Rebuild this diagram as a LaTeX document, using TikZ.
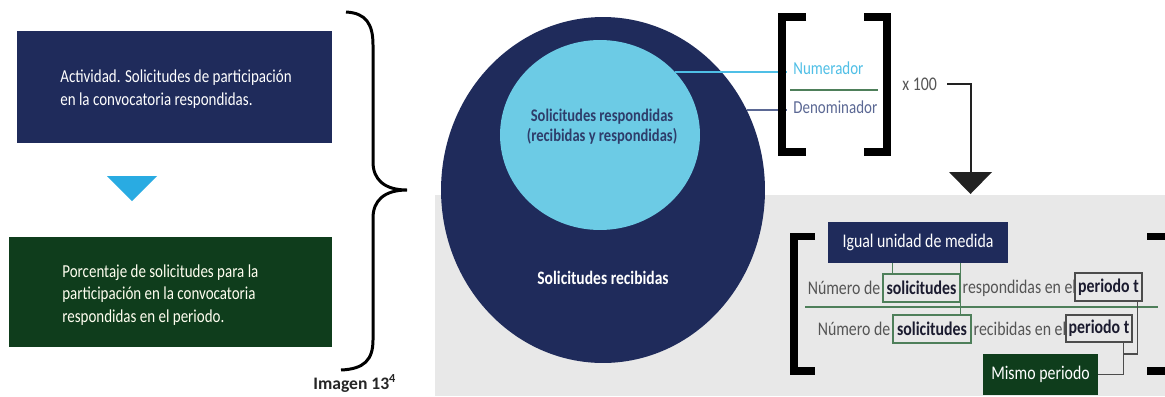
\documentclass[tikz,border=0pt]{standalone}
\usepackage{fontspec}
\setmainfont{Carlito}
\newfontfamily\cf[FakeStretch=0.82]{Carlito}
\usetikzlibrary{shapes.geometric,calc}
\definecolor{navy}{HTML}{1F2B5B}
\definecolor{dgreen}{HTML}{0F3D1C}
\definecolor{tricyan}{HTML}{29ABE2}
\definecolor{lcyan}{HTML}{6CCBE5}
\definecolor{bggray}{HTML}{E8E8E8}
\definecolor{numc}{HTML}{4FBFE6}
\definecolor{denc}{HTML}{5B6894}
\definecolor{circtxt}{HTML}{2E3D6B}
\definecolor{lgreen}{HTML}{4E7F5A}
\definecolor{gtxt}{HTML}{555555}
\definecolor{btxt}{HTML}{1B1B2F}
\definecolor{darkc}{HTML}{222222}
\definecolor{imgtxt}{HTML}{262626}
\begin{document}
\begin{tikzpicture}[x=0.02cm,y=-0.02cm,
  box/.style={inner sep=0, text=white, align=left, font=\cf\fontsize{10.4}{13}\selectfont},
  tagbox/.style={inner sep=0, text=white, minimum height=0.82cm, font=\cf\fontsize{11}{13}\selectfont},
  wbox/.style={inner sep=0, draw=#1, line width=0.7pt, text=btxt, minimum height=0.56cm, font=\cf\bfseries\fontsize{11}{13}\selectfont},
  ftxt/.style={inner sep=1pt, text=gtxt, font=\cf\fontsize{11}{13}\selectfont},
  ctxt/.style={inner sep=0, font=\cf\bfseries\fontsize{10.8}{11.5}\selectfont, align=center},
  lbl/.style={inner sep=0, font=\cf\fontsize{10.4}{12}\selectfont},
  brk/.style={line width=4.5pt, miter limit=10},
  conn/.style={line width=0.8pt, darkc}
]
\useasboundingbox (0,0) rectangle (1165,396);
\clip (0,0) rectangle (1165,396);
\fill[white] (0,0) rectangle (1165,396);
\fill[bggray] (435,195) rectangle (1165,396);

% left column
\node[box, fill=navy, minimum width=6.3cm, minimum height=2.24cm] (act) at (174.5,87) {};
\node[box, anchor=west] (acttxt) at (60,89) {Actividad. Solicitudes de participación\\en la convocatoria respondidas.};
\fill[tricyan] (107,176) -- (157,176) -- (132,201) -- cycle;
\node[box, fill=dgreen, minimum width=6.46cm, minimum height=2.2cm] (res) at (170.5,292) {};
\node[box, anchor=west, text=white!94!yellow] (restxt) at (62,295) {Porcentaje de solicitudes para la\\participación en la convocatoria\\respondidas en el periodo.};

% brace
\draw[line width=1.7pt] (346,12) .. controls (366,13) and (373,24) .. (373,45) -- (373,162)
  .. controls (373,180) and (385,190) .. (407,190)
  .. controls (385,190) and (373,200) .. (373,218) -- (373,340)
  .. controls (373,360) and (364,369) .. (341,370);
\node[anchor=base west, inner sep=0, font=\bfseries\fontsize{10}{12}\selectfont, text=imgtxt] (img) at (313,389) {Imagen 13\textsuperscript{4}};

% ellipses
\node[ellipse, fill=navy, inner sep=0, minimum width=6.48cm, minimum height=6.92cm] (rec) at (603,190) {};
\node[ellipse, fill=lcyan, inner sep=0, minimum width=4cm, minimum height=3.8cm] (resp) at (600,135) {};
\node[ctxt, text=circtxt, font=\cf\bfseries\fontsize{10.1}{11.5}\selectfont] (resptxt) at (602,127) {Solicitudes respondidas\\(recibidas y respondidas)};
\node[ctxt, text=white] (rectxt) at (603,278) {Solicitudes recibidas};

% fraction top
\node[lbl, anchor=west, text=numc] (num) at (793,68) {Numerador};
\node[lbl, anchor=west, text=denc] (den) at (793,107) {Denominador};
\coordinate (numl) at ([xshift=-0.12cm]num.west);
\coordinate (denl) at ([xshift=-0.12cm]den.west);
\draw[lgreen, line width=1pt] (790,90) -- (878,90);
\draw[numc, line width=0.8pt] (resp.40) -- (resp.40 -| numl);
\draw[denc, line width=0.8pt] (rec.29) -- (rec.29 -| denl);
\draw[brk] (806,17) -- (782,17) -- (782,152) -- (806,152);
\draw[brk] (864,17) -- (887,17) -- (887,152) -- (864,152);
\node[lbl, anchor=west, text=gtxt, font=\cf\fontsize{11}{12}\selectfont] (x100) at (902,84) {x 100};
\coordinate (astart) at ([xshift=0.2cm]x100.east);
\coordinate (atop) at (971,84);
\coordinate (abot) at (971,173);
\draw[conn] (astart) -- (atop) -- (abot);
\fill[darkc] (949,172) -- (992,172) -- (970.5,194) -- cycle;

% fraction bottom
\draw[brk] (815,236.5) -- (794,236.5) -- (794,371) -- (815,371);
\draw[brk] (1147,236.5) -- (1172,236.5) -- (1172,371) -- (1147,371);
\node[tagbox, fill=navy, minimum width=3.6cm] (igual) at (918,242.5) {Igual unidad de medida};
\node[tagbox, fill=dgreen, minimum width=2.3cm] (mismo) at (1040.5,374.5) {Mismo periodo};

\node[wbox=lgreen, minimum width=1.54cm] (s1) at (921.5,288) {solicitudes};
\node[ftxt, anchor=east] (n1) at (s1.west) {Número de};
\node[ftxt, anchor=west] (r1) at (s1.east) {respondidas en el};
\node[wbox=gray!60!black, minimum width=1.34cm] (p1) at (1108.5,287) {periodo t};
\draw[lgreen, line width=1pt] (805,307) -- (1158,307);
\node[wbox=lgreen, minimum width=1.56cm] (s2) at (932,329) {solicitudes};
\node[ftxt, anchor=east] (n2) at (s2.west) {Número de};
\node[ftxt, anchor=west] (r2) at (s2.east) {recibidas en el};
\node[wbox=gray!60!black, minimum width=1.32cm, minimum height=0.54cm] (p2) at (1099,328.5) {periodo t};

\coordinate (s1l) at ([xshift=0.2cm]s1.north west);
\draw[lgreen, line width=0.8pt] (s1l |- igual.south) -- (s1l);
\draw[lgreen, line width=0.8pt] (s1.east |- igual.south) -- (s1.east |- s2.north);
\coordinate (j) at (1123,354);
\coordinate (p1c) at ([xshift=-0.1cm]p1.south east);
\coordinate (p2c) at ([xshift=-0.18cm]p2.south east);
\draw[gray!60!black, line width=0.8pt] (p1c) |- (j);
\draw[gray!60!black, line width=0.8pt] (p2c) |- (mismo.east);
\end{tikzpicture}
\end{document}
